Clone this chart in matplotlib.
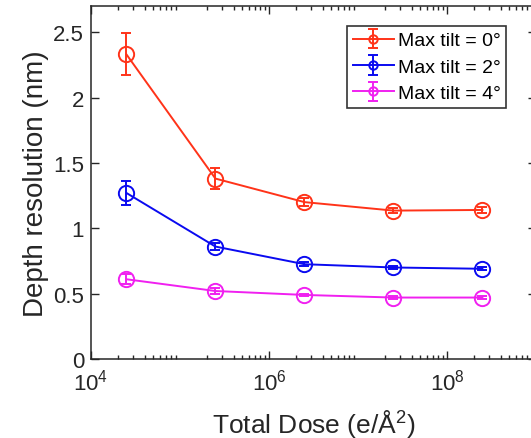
import matplotlib
matplotlib.use('Agg')
import matplotlib.pyplot as plt
import matplotlib.ticker as ticker
import numpy as np

# Plot settings (MATLAB-like look)
plt.rcParams['font.family'] = 'Liberation Sans'
plt.rcParams['mathtext.fontset'] = 'custom'
plt.rcParams['mathtext.rm'] = 'Liberation Sans'
plt.rcParams['mathtext.it'] = 'Liberation Sans:italic'
plt.rcParams['axes.linewidth'] = 1.1
plt.rcParams['axes.edgecolor'] = '#262626'

# Data
total_dose = [2.5e4, 2.5e5, 2.5e6, 2.5e7, 2.5e8]

res_tilt0 = [2.33, 1.38, 1.20, 1.135, 1.14]
err_tilt0 = [0.16, 0.08, 0.03, 0.02, 0.02]

res_tilt2 = [1.27, 0.86, 0.725, 0.70, 0.69]
err_tilt2 = [0.095, 0.03, 0.015, 0.01, 0.01]

res_tilt4 = [0.61, 0.52, 0.49, 0.47, 0.47]
err_tilt4 = [0.04, 0.02, 0.01, 0.01, 0.01]

labels = ['Max tilt = 0°', 'Max tilt = 2°', 'Max tilt = 4°']
colors = ['#FF3319', '#0A0AF0', '#F020F0']

fig = plt.figure(figsize=(5.31, 4.39), dpi=100)
# right edge of axes sits just outside the picture, as in the reference
ax = fig.add_axes([91/531, (439-360)/439, 445/531, 353/439])

for y, e, lab, c in zip([res_tilt0, res_tilt2, res_tilt4],
                        [err_tilt0, err_tilt2, err_tilt4], labels, colors):
    ax.errorbar(total_dose, y, yerr=e, color=c, marker='o', markersize=11,
                markerfacecolor='none', markeredgewidth=1.4, linewidth=1.4,
                capsize=3.3, elinewidth=1.4, capthick=1.4, label=lab)

ax.set_xscale('log')
ax.set_xlim(1e4, 1e9)
ax.set_ylim(0, 2.7)
ax.set_xticks([1e4, 1e6, 1e8])
ax.xaxis.set_minor_locator(ticker.LogLocator(base=10, subs=np.arange(2, 10), numticks=20))
ax.xaxis.set_minor_formatter(ticker.NullFormatter())
ax.set_yticks([0, 0.5, 1, 1.5, 2, 2.5])
ax.yaxis.set_major_formatter(ticker.FormatStrFormatter('%g'))

ax.tick_params(which='both', direction='in', top=True, right=True,
               labelsize=16, colors='#262626', width=1.0)
ax.tick_params(which='major', length=6, pad=5)
ax.tick_params(axis='x', which='major', pad=7)
ax.tick_params(which='minor', length=3)

ax.set_xlabel('Total Dose (e/Å$^{2}$)', fontsize=19, color='#262626', labelpad=9)
ax.set_ylabel('Depth resolution (nm)', fontsize=20, color='#262626', labelpad=3)

leg = ax.legend(loc='upper left', bbox_to_anchor=(256/445, 1 - 20/353),
                fontsize=14, frameon=True, fancybox=False, borderpad=0.3,
                handlelength=2.1, handletextpad=0.2, labelspacing=0.45,
                borderaxespad=0, markerscale=0.55)
leg.get_frame().set_edgecolor('black')
leg.get_frame().set_linewidth(1.2)

plt.savefig('out.png', dpi=100)
